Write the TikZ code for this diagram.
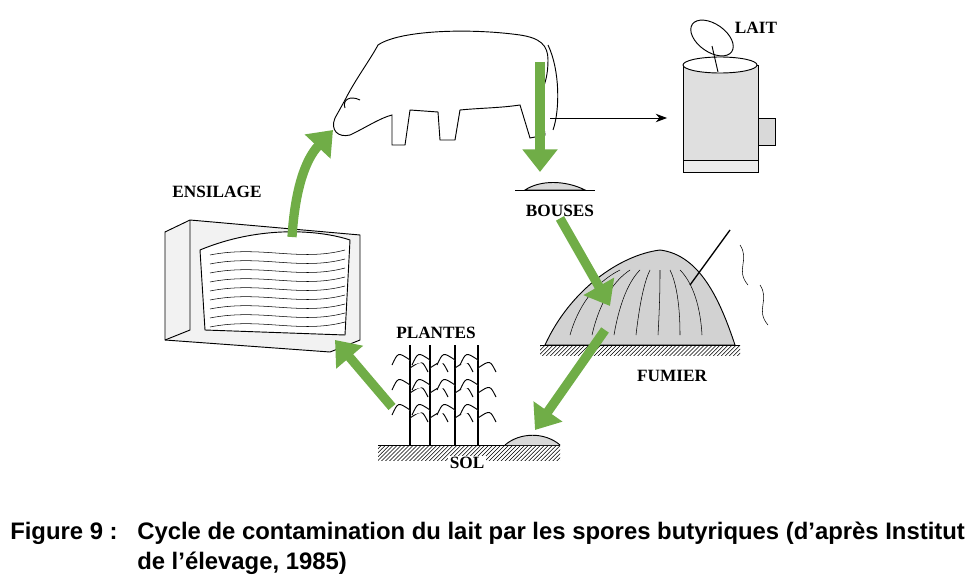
\documentclass[tikz,border=0pt]{standalone}
\usepackage{fontspec}
\setmainfont{Liberation Serif}
\newfontfamily\capfont{Liberation Sans}
\usetikzlibrary{arrows.meta,patterns}
\definecolor{leaf}{RGB}{112,173,71}
\tikzset{
	lbl/.style={font=\bfseries\fontsize{13}{15}\selectfont, inner sep=1pt},
	cyc/.style={draw=leaf, line width=7pt, -{Triangle[length=6mm,width=9mm]}},
	ink/.style={draw=black, line width=0.7pt},
	hatch/.style={pattern=north east lines},
}
\begin{document}
\begin{tikzpicture}[x=0.0265cm,y=-0.0265cm]
	\useasboundingbox (0,0) rectangle (978,584);

	% cow
	\draw[ink] (345,100) .. controls (355,80) and (370,60) .. (378,45)
		.. controls (400,30) and (470,28) .. (520,35)
		.. controls (540,38) and (548,45) .. (548,60)
		.. controls (548,75) and (545,85) .. (540,95)
		-- (545,135) -- (530,138) -- (520,105)
		.. controls (500,108) and (480,108) .. (460,110)
		-- (455,140) -- (440,140) -- (438,112)
		-- (410,110) -- (405,145) -- (392,145) -- (392,115)
		.. controls (380,118) and (365,128) .. (350,135)
		.. controls (338,138) and (330,130) .. (335,118) -- cycle;
	\draw[ink] (548,45) .. controls (560,70) and (560,110) .. (553,130);
	\draw[ink] (360,100) .. controls (350,95) and (342,100) .. (345,108);

	% milk can
	\draw[ink, fill=gray!25] (683,65) rectangle (758,160);
	\draw[ink, fill=white] (720,65) ellipse (37 and 8);
	\draw[ink, fill=gray!30] (758,118) rectangle (775,145);
	\draw[ink, fill=gray!15] (683,160) rectangle (758,172);
	\draw[ink, fill=white, rotate around={-35:(712,38)}] (712,38) ellipse (24 and 14);
	\draw[ink] (712,46) -- (718,72);
	\node[lbl] (lait) at (756,28) {LAIT};

	% ensilage silo
	\draw[ink, fill=gray!10] (165,232) -- (190,220) -- (360,235) -- (360,340) -- (330,352) -- (165,340) -- cycle;
	\draw[ink] (190,220) -- (190,330) -- (165,340);
	\draw[ink, fill=white] (200,250) .. controls (260,225) and (320,230) .. (350,240)
		-- (345,335) -- (205,330) -- cycle;
	\foreach \k in {0,...,8}
		\draw[ink, line width=0.4pt] (210,{255+9*\k}) .. controls (260,{245+9*\k}) and (300,{262+9*\k}) .. (345,{250+9*\k});
	\node[lbl] (ensilage) at (217,192) {ENSILAGE};

	% plants and soil
	\foreach \px in {410,430,455,478}
		\draw[ink, line width=1.2pt] (\px,445) -- (\px,345);
	\foreach \px in {410,430,455,478}
		\foreach \py in {360,385,410}
			\draw[ink, fill=white] (\px,\py) .. controls (\px-12,\py-8) .. (\px-18,\py+5) (\px,\py+8) .. controls (\px+12,\py) .. (\px+18,\py+12);
	\node[lbl] (plantes) at (436,333) {PLANTES};
	\fill[hatch] (378,445) rectangle (560,460);
	\draw[ink] (378,445) -- (560,445);
	\draw[ink, fill=gray!30] (505,445) .. controls (520,432) and (545,432) .. (560,445);
	\node[lbl, fill=white] (sol) at (467,463) {SOL};

	% bouses
	\draw[ink, fill=gray!30] (525,190) .. controls (540,180) and (565,180) .. (585,190) -- cycle;
	\draw[ink] (515,190) -- (595,190);
	\node[lbl] (bouses) at (560,211) {BOUSES};

	% fumier heap
	\draw[ink, fill=gray!35] (545,345) .. controls (570,290) and (620,255) .. (660,250)
		.. controls (700,255) and (720,300) .. (735,345) -- cycle;
	\foreach \k in {0,...,6}
		\draw[ink, line width=0.4pt] ({570+22*\k},335) .. controls ({580+20*\k},300) and ({600+15*\k},280) .. ({620+10*\k},270);
	\fill[hatch] (540,345) rectangle (740,355);
	\draw[ink] (540,345) -- (740,345);
	\draw[ink, line width=1pt] (690,285) -- (730,230);
	\draw[ink, line width=0.4pt] (740,245) .. controls (750,260) and (735,270) .. (748,285);
	\draw[ink, line width=0.4pt] (760,285) .. controls (770,300) and (755,310) .. (768,325);
	\node[lbl] (fumier) at (672,376) {FUMIER};

	% anchor points of the cycle
	\coordinate (udder) at (540,62);
	\coordinate (mouth) at (333,130);
	\coordinate (canin) at (667,118);
	\coordinate (milk) at (550,118);
	\coordinate (heaptop) at (610,306);
	\coordinate (heapbot) at (605,330);
	\coordinate (soil) at (535,430);
	\coordinate (crops) at (392,407);
	\coordinate (silo) at (335,340);
	\coordinate (silotop) at (292,237);

	\draw[ink, -{Stealth[length=3mm]}] (milk) -- (canin);
	\draw[cyc] (udder) -- (540,172);
	\draw[cyc] (bouses.south) -- (heaptop);
	\draw[cyc] (heapbot) -- (soil);
	\draw[cyc] (crops) -- (silo);
	\draw[cyc] (silotop) .. controls (295,190) and (305,160) .. (mouth);

	% caption
	\node[anchor=west, font=\capfont\bfseries\fontsize{18}{22.5}\selectfont, inner sep=0pt] (fig) at (10,533) {Figure 9 :};
	\node[anchor=north west, align=left, font=\capfont\bfseries\fontsize{18}{22.5}\selectfont, inner sep=0pt] (caption) at (137,522)
		{Cycle de contamination du lait par les spores butyriques (d’après Institut\\de l’élevage, 1985)};
\end{tikzpicture}
\end{document}
